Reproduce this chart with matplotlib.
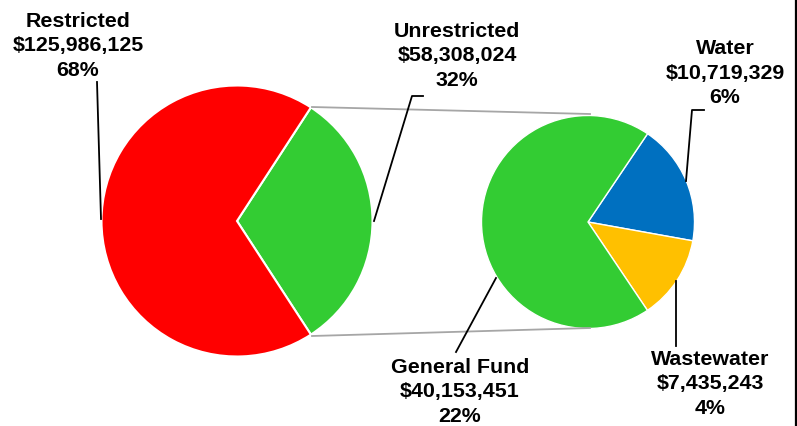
import matplotlib.pyplot as plt

# main pie
main_names = ["Unrestricted", "Restricted"]
main_values = [58308024, 125986125]
main_colors = ["#33CC33", "#FF0000"]

# breakdown of the unrestricted part
sub_names = ["Water", "Wastewater", "General Fund"]
sub_values = [10719329, 7435243, 40153451]
sub_colors = ["#0070C0", "#FFC000", "#33CC33"]

W, H = 797, 427
total = sum(main_values)


def py(y):
    # pixel row -> data y
    return H - y


def label(name, value):
    return f"{name}\n${value:,}\n{value / total:.0%}"


fig = plt.figure(figsize=(W / 100, H / 100), dpi=100)
ax = fig.add_axes([0, 0, 1, 1])

frac = main_values[0] / total
ax.pie(main_values, colors=main_colors, center=(237, py(222)), radius=135.5,
       startangle=-frac * 180, counterclock=True, frame=True,
       wedgeprops=dict(edgecolor="white", linewidth=1.5))
ax.pie(sub_values, colors=sub_colors, center=(588, py(223)), radius=106.5,
       startangle=56, counterclock=False, frame=True,
       wedgeprops=dict(edgecolor="white", linewidth=1.0))

# connectors between the pies
grey = "#A6A6A6"
ax.plot([312, 590], [py(108), py(115)], color=grey, lw=1.3)
ax.plot([312, 590], [py(337), py(329)], color=grey, lw=1.3)

# leader lines
lead = dict(color="black", lw=1.3)
ax.plot([97, 101], [py(83), py(220)], **lead)
ax.plot([423, 412, 374], [py(97), py(97), py(222)], **lead)
ax.plot([704, 692, 686], [py(111), py(111), py(182)], **lead)
ax.plot([676, 676], [py(282), py(347)], **lead)
ax.plot([496, 456], [py(279), py(353)], **lead)

txt = dict(ha="center", va="center", fontsize=15.4, fontweight="bold",
           family=["Liberation Sans", "DejaVu Sans"], linespacing=1.38)
ax.text(78, py(46), label(main_names[1], main_values[1]), **txt)
ax.text(457, py(56), label(main_names[0], main_values[0]), **txt)
ax.text(725, py(73), label(sub_names[0], sub_values[0]), **txt)
ax.text(710, py(384), label(sub_names[1], sub_values[1]), **txt)
ax.text(460, py(392), label(sub_names[2], sub_values[2]), **txt)

# window edge at the right
ax.plot([795, 795], [0, H], color="#999999", lw=1)
ax.plot([796.5, 796.5], [0, H], color="black", lw=1.5)

ax.set_xlim(0, W)
ax.set_ylim(0, H)
ax.set_aspect("auto")
ax.axis("off")

fig.savefig("out.png", dpi=100)
